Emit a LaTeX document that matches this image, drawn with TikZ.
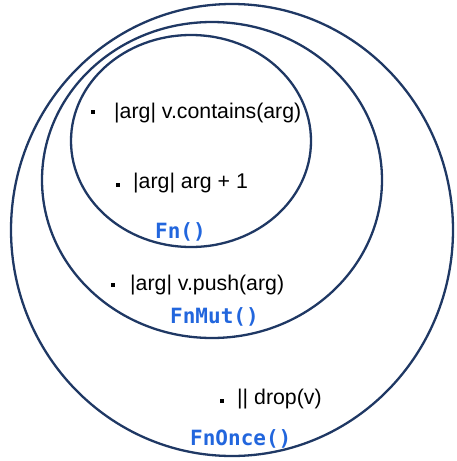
\documentclass[tikz,border=0pt]{standalone}
\usepackage{fontspec}
\setmainfont{Liberation Sans}
\newfontfamily\codefont{DejaVu Sans Mono}
\definecolor{ringblue}{HTML}{1F3864}
\definecolor{traitblue}{HTML}{2266DD}
\begin{document}
\begin{tikzpicture}[x=1pt,y=-1pt,
  ring/.style={draw=ringblue,line width=2.3pt},
  closure/.style={anchor=base west,inner sep=0pt,font=\fontsize{21.3}{25}\selectfont,text=black},
  trait/.style={anchor=base west,inner sep=0pt,font=\codefont\bfseries\fontsize{21}{25}\selectfont,text=traitblue},
  dot/.style={fill=black,minimum size=4.5pt,inner sep=0pt,rectangle}]
\useasboundingbox (0,0) rectangle (457,461);
% nested sets of closure traits
\draw[ring] (232,230) ellipse [x radius=221, y radius=226];
\draw[ring] (212,180) ellipse [x radius=170, y radius=158];
\draw[ring] (191,141) ellipse [x radius=120, y radius=106];
% Fn closures
\node[dot] (b1) at (93,112) {};
\node[closure] (c1) at (114,118) {|arg| v.contains(arg)};
\node[dot] (b2) at (118,185) {};
\node[closure] (c2) at (133,188) {|arg| arg + 1};
\node[trait] (fn) at (155,238) {Fn()};
% FnMut closure
\node[dot] (b3) at (113,285) {};
\node[closure] (c3) at (130,290) {|arg| v.push(arg)};
\node[trait] (fnmut) at (170,323) {FnMut()};
% FnOnce closure
\node[dot] (b4) at (222,401) {};
\node[closure] (c4) at (237,404) {|| drop(v)};
\node[trait] (fnonce) at (190,445) {FnOnce()};
\end{tikzpicture}
\end{document}
